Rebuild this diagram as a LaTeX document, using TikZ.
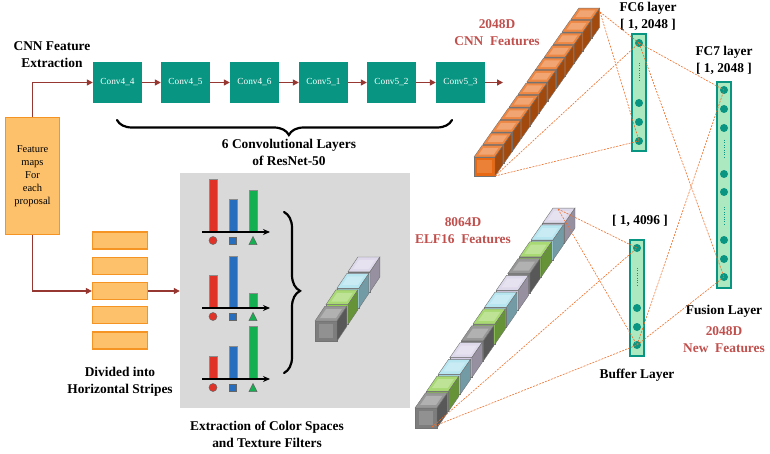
\documentclass[tikz,border=0pt]{standalone}
\usepackage{fontspec}
\setmainfont{Liberation Serif}
\usetikzlibrary{arrows.meta,decorations.pathreplacing}

\definecolor{convteal}{RGB}{8,150,130}
\definecolor{flowred}{RGB}{150,55,50}
\definecolor{mapfill}{RGB}{253,193,108}
\definecolor{mapedge}{RGB}{245,148,35}
\definecolor{panelgray}{RGB}{217,217,217}
\definecolor{labelred}{RGB}{192,80,77}
\definecolor{linkorange}{RGB}{240,110,40}
\definecolor{layerfill}{RGB}{172,232,192}
\definecolor{cubeorange}{RGB}{232,105,20}
\definecolor{cubegray}{RGB}{125,125,125}
\definecolor{cubegreen}{RGB}{146,208,80}
\definecolor{cubeblue}{RGB}{165,222,236}
\definecolor{cubelilac}{RGB}{214,206,230}
\definecolor{barred}{RGB}{225,50,40}
\definecolor{barblue}{RGB}{40,110,190}
\definecolor{bargreen}{RGB}{20,175,80}

\newcommand{\lblfont}{\fontsize{13.4}{17}\selectfont\bfseries}

% one cube: front lower-left x, y, width, height, depth dx, depth dy (up), colour
\newcommand{\drawcube}[7]{%
  \filldraw[fill=#7, draw=black!55, line width=0.4pt] (#1,#2) rectangle (#1+#3,#2-#4);
  \fill[#7!85!white] (#1+0.16*#3,#2-0.16*#4) rectangle (#1+0.84*#3,#2-0.84*#4);
  \filldraw[fill=#7!80!white, draw=black!55, line width=0.4pt] (#1,#2-#4) -- (#1+#5,#2-#4-#6) -- (#1+#3+#5,#2-#4-#6) -- (#1+#3,#2-#4) -- cycle;
  \fill[#7!60!white] (#1+0.14*#3+0.2*#5,#2-#4-0.2*#6) -- (#1+0.14*#3+0.8*#5,#2-#4-0.8*#6) -- (#1+0.86*#3+0.8*#5,#2-#4-0.8*#6) -- (#1+0.86*#3+0.2*#5,#2-#4-0.2*#6) -- cycle;
  \filldraw[fill=#7!70!black, draw=black!55, line width=0.4pt] (#1+#3,#2) -- (#1+#3+#5,#2-#6) -- (#1+#3+#5,#2-#4-#6) -- (#1+#3,#2-#4) -- cycle;
}

\begin{document}
\begin{tikzpicture}[
    x=1pt, y=-1pt,
    conv/.style={rectangle, fill=convteal, minimum width=49pt, minimum height=41pt, inner sep=0, text=white, font=\fontsize{9.3}{11}\selectfont},
    fmap/.style={rectangle, draw=mapedge, fill=mapfill, line width=1.3pt, minimum width=54pt, minimum height=117pt, align=center, font=\fontsize{10.5}{13}\selectfont},
    stripe/.style={rectangle, draw=mapedge, fill=mapfill, line width=1.3pt, minimum width=55pt, minimum height=17pt, inner sep=0},
    panel/.style={rectangle, fill=panelgray, minimum width=230pt, minimum height=235pt, inner sep=0},
    layer/.style={rectangle, draw=convteal, fill=layerfill, line width=2pt, minimum width=14pt, inner sep=0},
    unit/.style={circle, fill=convteal, minimum size=8pt, inner sep=0},
    gap/.style={convteal, line width=1pt, dash pattern=on 0.8pt off 1.6pt},
    lbl/.style={align=center, font=\lblfont, inner sep=0},
    redlbl/.style={lbl, text=labelred},
    flow/.style={-{Triangle[length=6pt, width=6pt]}, flowred, line width=1.3pt},
    link/.style={linkorange, line width=0.6pt, dash pattern=on 2pt off 1.2pt},
    brace/.style={decorate, line width=2.2pt, line cap=round}
]
    \useasboundingbox (0,0) rectangle (770,454);

    % CNN branch
    \node[lbl] (cnnlbl) at (52,55) {CNN Feature\\Extraction};
    \node[conv] (c1) at (117.5,82.5) {Conv4\_4};
    \node[conv] (c2) at (185.5,82.5) {Conv4\_5};
    \node[conv] (c3) at (254.5,82.5) {Conv4\_6};
    \node[conv] (c4) at (323.5,82.5) {Conv5\_1};
    \node[conv] (c5) at (391.5,82.5) {Conv5\_2};
    \node[conv] (c6) at (460.5,82.5) {Conv5\_3};
    \coordinate (convout) at (503,82.5);

    \draw[flow] (c1) -- (c2);
    \draw[flow] (c2) -- (c3);
    \draw[flow] (c3) -- (c4);
    \draw[flow] (c4) -- (c5);
    \draw[flow] (c5) -- (c6);
    \draw[flow] (c6) -- (convout);

    \draw[brace, decoration={brace, mirror, amplitude=15pt, aspect=0.513}] (117,120) -- (452,120);
    \node[lbl] (convlbl) at (289,152) {6 Convolutional Layers\\of ResNet-50};

    % Input
    \node[fmap] (fmap) at (32.5,176) {Feature\\maps\\For\\each\\proposal};
    \node[stripe] (s1) at (120,240.5) {};
    \node[stripe] (s2) at (120,266) {};
    \node[stripe] (s3) at (120,291) {};
    \node[stripe] (s4) at (120,315) {};
    \node[stripe] (s5) at (120,340.5) {};
    \node[lbl] (stripelbl) at (120,382) {Divided into\\Horizontal Stripes};

    \draw[flow] (fmap.north) |- (c1.west);
    \draw[flow] (fmap.south) |- (s3.west);

    % Colour / texture panel
    \node[panel] (panel) at (295,290.5) {};
    \draw[flow] (s3.east) -- (panel.west |- s3.east);
    \node[lbl] (panellbl) at (267,434.5) {Extraction of Color Spaces\\and Texture Filters};

    \foreach \ay/\hr/\hb/\hg in {232/179/199/190, 308/275/256/293, 379/356/346/326} {
        \filldraw[fill=barred, draw=black!45, line width=0.4pt] (209,\ay) rectangle (217,\hr);
        \filldraw[fill=barblue, draw=black!45, line width=0.4pt] (229,\ay) rectangle (237,\hb);
        \filldraw[fill=bargreen, draw=black!45, line width=0.4pt] (249,\ay) rectangle (257,\hg);
        \draw[-{Stealth[length=7pt, width=6pt]}, line width=1.4pt] (202,\ay) -- (270,\ay);
        \filldraw[fill=barred, draw=black!60, line width=0.5pt] (213,\ay+8.5) circle (4pt);
        \filldraw[fill=barblue, draw=black!60, line width=0.5pt] (229.5,\ay+5) rectangle (236.5,\ay+12);
        \filldraw[fill=bargreen, draw=black!60, line width=0.5pt] (249,\ay+12.5) -- (257,\ay+12.5) -- (253,\ay+4.5) -- cycle;
    }

    \draw[brace, decoration={brace, amplitude=16pt, aspect=0.49}] (284,212) -- (284,373);

    \foreach \i/\c in {3/cubelilac, 2/cubeblue, 1/cubegreen, 0/cubegray}
        \drawcube{315+\i*11}{341-\i*16.4}{22}{20}{9.9}{14.8}{\c};

    % CNN feature vector
    \foreach \i in {11,10,...,0}
        \drawcube{474+\i*8.8}{176-\i*12.5}{21}{19}{7.9}{11.3}{cubeorange};
    \coordinate (cnntop) at (600,12);
    \coordinate (cnnbot) at (495,176);
    \node[redlbl] (cnnfeat) at (497,32.5) {2048D\\CNN\ \ Features};

    % ELF16 feature vector
    \foreach \i/\c in {11/cubelilac, 10/cubeblue, 9/cubegreen, 8/cubegray, 7/cubelilac, 6/cubeblue, 5/cubegreen, 4/cubegray, 3/cubelilac, 2/cubeblue, 1/cubegreen, 0/cubegray}
        \drawcube{415+\i*11.6}{428-\i*16.8}{22}{20}{10.4}{15.1}{\c};
    \coordinate (elftop) at (558,209);
    \coordinate (elfbot) at (432,427);
    \node[redlbl] (elffeat) at (463,230.5) {8064D\\ELF16\ \ Features};

    % FC6
    \node[lbl] (fc6lbl) at (648,16) {FC6 layer\\{}[ 1, 2048 ]};
    \node[layer, minimum height=117pt] (fc6) at (639,92.5) {};
    \node[unit] (fc6a) at (639,43) {};
    \node[unit] (fc6b) at (639,103) {};
    \node[unit] (fc6c) at (639,122) {};
    \node[unit] (fc6d) at (639,141) {};
    \draw[gap] (639,63) -- (639,82);

    % FC7
    \node[lbl] (fc7lbl) at (724,60.5) {FC7 layer\\{}[ 1, 2048 ]};
    \node[layer, minimum height=206pt] (fc7) at (724,185) {};
    \node[unit] (fc7a) at (724,90) {};
    \node[unit] (fc7b) at (724,109) {};
    \node[unit] (fc7c) at (724,128) {};
    \node[unit] (fc7d) at (724,174) {};
    \node[unit] (fc7e) at (724,192) {};
    \node[unit] (fc7f) at (724,240) {};
    \node[unit] (fc7g) at (724,259) {};
    \node[unit] (fc7h) at (724,277) {};
    \draw[gap] (724,140) -- (724,159);
    \draw[gap] (724,207) -- (724,226);
    \node[lbl] (fuselbl) at (724,311) {Fusion Layer};
    \node[redlbl] (newfeat) at (724,339.5) {2048D\\New\ \ Features};

    % Buffer
    \node[lbl] (buflbl) at (640,221) {[ 1, 4096 ]};
    \node[layer, minimum height=116pt] (buf) at (637,298) {};
    \node[unit] (bufa) at (637,248) {};
    \node[unit] (bufb) at (637,308) {};
    \node[unit] (bufc) at (637,327) {};
    \node[unit] (bufd) at (637,345) {};
    \draw[gap] (637,268) -- (637,287);
    \node[lbl] (bufname) at (637,375) {Buffer Layer};

    % Dashed links
    \draw[link] (cnntop) -- (fc6a.center);
    \draw[link] (cnntop) -- (fc6d.center);
    \draw[link] (cnnbot) -- (fc6a.center);
    \draw[link] (cnnbot) -- (fc6d.center);
    \draw[link] (elftop) -- (bufa.center);
    \draw[link] (elftop) -- (bufd.center);
    \draw[link] (elfbot) -- (bufa.center);
    \draw[link] (elfbot) -- (bufd.center);
    \draw[link] (fc6a.center) -- (fc7a.center);
    \draw[link] (fc6a.center) -- (fc7h.center);
    \draw[link] (bufd.center) -- (fc7a.center);
    \draw[link] (bufd.center) -- (fc7h.center);

\end{tikzpicture}
\end{document}
